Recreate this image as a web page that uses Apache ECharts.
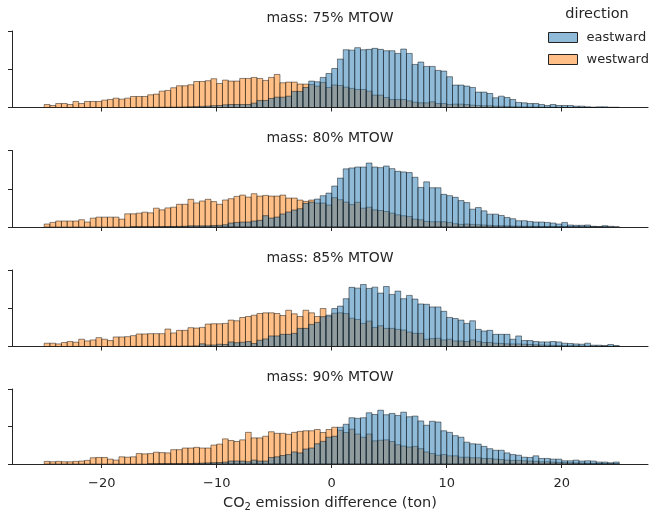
<!DOCTYPE html>
<html>
<head>
<meta charset="utf-8">
<script src="https://cdn.jsdelivr.net/npm/echarts@6/dist/echarts.min.js"></script>
<style>
  html, body { margin: 0; padding: 0; background: #fff; }
  #main { width: 665px; height: 513px; }
</style>
</head>
<body>
<div id="main"></div>
<script>
// histogram bins: 100 bins of 0.5 ton from -25 to 25
const binStart = -25
const binWidth = 0.5
const xTicks = [-20, -10, 0, 10, 20]
const panelTitles = ['mass: 75% MTOW', 'mass: 80% MTOW', 'mass: 85% MTOW', 'mass: 90% MTOW']
const directions = ['eastward', 'westward']

// bar heights, relative units (axis top = 100)
const west75 = [
  3.9, 2.6, 5.2, 5.2, 3.9, 7.9, 5.2, 7.9, 7.9, 7.9,
  9.6, 10.5, 12.2, 10.9, 12.2, 14.4, 14.4, 14.4, 16.6, 17.5,
  21.4, 22.3, 25.8, 28.4, 28.4, 29.7, 34.0, 34.0, 35.0, 37.6,
  31.4, 35.8, 34.5, 34.5, 38.0, 38.0, 39.3, 38.0, 35.4, 39.3,
  43.2, 32.3, 33.2, 33.2, 30.6, 30.6, 30.1, 28.0, 32.8, 26.2,
  29.5, 28.8, 26.6, 25.0, 23.6, 23.6, 21.4, 16.2, 16.2, 13.1,
  10.5, 10.5, 10.5, 8.7, 7.0, 6.1, 6.1, 7.4, 5.2, 5.2,
  3.9, 4.4, 4.4, 3.9, 3.1, 2.6, 2.2, 2.2, 1.7, 1.7,
  1.2, 1.0, 0.9, 0.8, 0.7, 0.6, 0.5, 0.4, 0.4, 0.3,
  0.3, 0.2, 0.2, 0.1, 0.1, 0.1, 0, 0, 0, 0
]
const east75 = [
  0, 0, 0, 0, 0, 0, 0, 0, 0, 0,
  0, 0, 0, 0, 0, 0, 0.2, 0.2, 0.3, 0.3,
  0.4, 0.4, 0.5, 0.6, 0.8, 1.0, 1.2, 1.5, 1.8, 2.4,
  2.6, 3.5, 3.9, 3.9, 3.9, 3.9, 5.7, 9.2, 9.2, 11.8,
  13.5, 13.5, 14.8, 21.0, 21.0, 26.2, 34.5, 33.6, 39.3, 44.5,
  51.0, 63.3, 75.5, 75.0, 78.2, 75.5, 76.0, 77.3, 76.0, 74.2,
  74.2, 70.7, 76.4, 70.7, 56.3, 59.4, 53.7, 53.7, 48.5, 47.6,
  40.2, 29.3, 29.3, 28.0, 26.2, 20.1, 20.1, 18.3, 12.7, 14.8,
  13.1, 10.5, 6.6, 6.1, 5.2, 5.2, 3.9, 2.6, 3.9, 2.6,
  2.6, 2.6, 1.7, 1.7, 0.9, 0.4, 0.9, 0.9, 0.4, 0.4
]
const west80 = [
  3.9, 6.0, 7.8, 7.8, 7.8, 7.8, 9.5, 6.5, 11.6, 12.9,
  12.9, 12.9, 12.9, 10.3, 17.2, 17.2, 18.1, 19.4, 18.5, 24.6,
  22.4, 25.0, 25.9, 29.7, 29.7, 36.2, 31.5, 34.0, 36.2, 33.2,
  29.7, 35.3, 37.0, 40.0, 41.7, 39.1, 43.5, 40.4, 41.3, 40.4,
  40.4, 41.7, 37.8, 37.8, 35.2, 33.5, 35.2, 31.3, 31.3, 28.7,
  38.3, 35.7, 32.6, 29.3, 32.3, 24.6, 25.9, 22.4, 21.6, 20.3,
  18.1, 15.9, 14.7, 13.8, 10.3, 9.5, 7.3, 6.9, 6.9, 6.9,
  6.0, 4.3, 3.4, 3.9, 3.4, 3.0, 2.6, 2.2, 1.7, 1.7,
  1.5, 1.3, 1.2, 1.0, 0.9, 0.8, 0.7, 0.6, 0.5, 0.5,
  0.4, 0.3, 0.3, 0.2, 0.2, 0.1, 0.1, 0.1, 0, 0
]
const east80 = [
  0, 0, 0, 0, 0, 0, 0, 0, 0, 0,
  0, 0, 0, 0, 0, 0.2, 0.2, 0.2, 0.2, 0.3,
  0.4, 0.5, 0.6, 0.8, 1.0, 1.5, 1.5, 1.5, 1.5, 2.0,
  2.2, 3.0, 5.2, 6.0, 6.5, 6.5, 7.8, 8.7, 14.8, 11.7,
  13.0, 17.0, 19.6, 22.2, 23.9, 30.9, 32.6, 36.5, 40.9, 44.3,
  53.5, 63.9, 76.0, 77.2, 78.4, 78.4, 83.6, 78.4, 77.6, 79.7,
  76.3, 72.8, 72.0, 71.1, 65.0, 51.7, 59.0, 51.3, 51.3, 42.7,
  41.0, 38.8, 34.5, 31.9, 23.3, 25.4, 21.1, 16.8, 16.8, 15.1,
  12.5, 10.8, 8.2, 8.2, 7.3, 6.5, 6.5, 6.0, 5.2, 3.9,
  6.0, 2.6, 2.2, 2.2, 2.6, 0.9, 0.4, 1.7, 0.9, 0.4
]
const west85 = [
  4.3, 4.3, 3.4, 5.2, 6.5, 5.6, 9.5, 7.3, 8.6, 11.6,
  9.5, 7.8, 12.5, 12.5, 12.9, 14.2, 16.4, 16.4, 16.8, 16.8,
  16.8, 22.8, 17.7, 21.1, 21.1, 24.6, 24.1, 25.0, 29.3, 29.7,
  29.7, 30.2, 34.5, 33.6, 37.9, 39.2, 40.9, 43.1, 44.0, 44.0,
  43.1, 40.5, 47.4, 42.7, 39.2, 47.4, 44.0, 39.2, 49.6, 39.6,
  43.5, 44.0, 43.0, 37.0, 35.3, 30.2, 33.2, 25.0, 27.2, 23.7,
  23.7, 22.4, 21.6, 19.0, 17.2, 17.2, 9.5, 10.3, 10.8, 8.6,
  9.5, 7.3, 7.3, 6.5, 8.6, 6.5, 5.2, 5.2, 4.3, 4.0,
  3.5, 3.4, 3.4, 3.0, 2.6, 2.2, 2.0, 1.7, 1.5, 1.3,
  1.2, 1.0, 0.9, 0.8, 0.6, 0.5, 0.4, 0.3, 0.2, 0.2
]
const east85 = [
  0, 0, 0, 0, 0, 0, 0, 0, 0, 0,
  0, 0, 0, 0, 0, 0.2, 0.2, 0.2, 0.2, 0.2,
  0.3, 0.3, 0.4, 0.4, 0.5, 0.5, 0.8, 3.5, 2.0, 2.0,
  3.0, 2.6, 6.0, 5.0, 5.6, 6.5, 3.9, 8.2, 9.9, 13.8,
  13.8, 15.9, 15.9, 17.2, 23.7, 23.7, 28.9, 31.5, 39.0, 41.0,
  49.6, 52.8, 62.5, 77.3, 76.3, 81.0, 75.9, 77.6, 69.8, 78.4,
  68.1, 72.4, 62.5, 66.8, 62.0, 55.6, 55.2, 51.7, 51.7, 46.0,
  38.0, 36.6, 34.5, 30.2, 33.6, 22.4, 20.3, 21.1, 15.9, 15.9,
  15.9, 9.5, 13.8, 7.8, 7.8, 6.5, 6.0, 6.0, 6.5, 6.0,
  4.3, 3.9, 3.4, 3.0, 4.3, 1.7, 1.7, 1.3, 2.6, 1.3
]
const west90 = [
  3.5, 3.0, 3.5, 3.0, 3.0, 3.5, 3.9, 4.8, 8.3, 8.7,
  8.7, 6.5, 5.2, 9.6, 9.1, 9.6, 13.9, 13.5, 13.9, 15.7,
  15.2, 14.8, 19.1, 19.1, 21.3, 21.3, 22.2, 21.3, 21.3, 25.2,
  26.5, 33.5, 31.3, 30.0, 32.2, 42.2, 34.8, 34.8, 37.0, 43.0,
  40.9, 40.9, 39.6, 42.2, 43.5, 44.3, 44.3, 46.0, 42.0, 46.0,
  49.0, 45.0, 42.0, 46.5, 40.0, 35.7, 40.0, 30.9, 31.7, 32.2,
  30.0, 25.7, 23.9, 22.6, 23.5, 20.4, 16.1, 13.9, 11.7, 12.6,
  10.9, 10.9, 9.1, 9.1, 8.3, 8.3, 7.4, 7.4, 6.5, 6.0,
  5.2, 4.8, 4.8, 4.3, 4.0, 3.5, 3.0, 3.0, 2.6, 2.2,
  2.0, 1.7, 1.5, 1.3, 1.0, 0.9, 0.6, 0.4, 0.3, 0.2
]
const east90 = [
  0, 0, 0, 0, 0, 0, 0, 0, 0, 0,
  0, 0, 0, 0, 0, 0, 0, 0, 0.2, 0.2,
  0.3, 0.3, 0.4, 0.4, 0.5, 0.6, 1.0, 1.2, 1.5, 1.8,
  2.0, 2.5, 4.0, 4.0, 3.9, 3.0, 5.2, 3.9, 3.9, 8.7,
  9.6, 11.3, 12.6, 16.1, 14.8, 20.0, 21.3, 27.0, 30.2, 35.7,
  37.0, 49.0, 53.0, 61.7, 60.9, 61.7, 68.3, 66.0, 71.7, 65.7,
  67.4, 64.8, 69.1, 63.0, 63.9, 57.4, 51.7, 57.0, 56.0, 44.3,
  42.2, 37.8, 35.7, 29.1, 27.0, 26.5, 23.5, 20.4, 18.3, 18.3,
  14.8, 12.6, 11.7, 9.1, 8.7, 10.9, 7.4, 7.4, 6.5, 6.5,
  4.3, 4.3, 5.2, 3.9, 4.3, 3.9, 2.6, 2.6, 1.7, 2.6
]

const eastPanels = [east75, east80, east85, east90]
const westPanels = [west75, west80, west85, west90]

const fontFamily = 'DejaVu Sans'
const textColor = '#262626'
const axisColor = '#262626'
const eastFill = 'rgba(31,119,180,0.5)'
const westFill = 'rgba(255,127,14,0.5)'
const edgeColor = 'rgba(0,0,0,0.45)'

const panelTops = [31, 150.5, 270, 389]
const panelHeight = 76.5
const plotLeft = 12
const plotWidth = 636

function toBins(values) {
  const out = []
  values.forEach((v, i) => {
    if (v > 0) out.push([binStart + i * binWidth, binStart + (i + 1) * binWidth, v])
  })
  return out
}

function barRenderer(fill) {
  return function (params, api) {
    const top = api.coord([api.value(0), api.value(2)])
    const bottom = api.coord([api.value(1), 0])
    return {
      type: 'rect',
      shape: { x: top[0], y: top[1], width: bottom[0] - top[0], height: bottom[1] - top[1] },
      style: { fill: fill, stroke: edgeColor, lineWidth: 1 }
    }
  }
}

const series = []
panelTitles.forEach((t, k) => {
  // westward drawn first so eastward sits on top (grey overlap)
  series.push({
    name: 'westward', type: 'custom', xAxisIndex: k, yAxisIndex: k,
    renderItem: barRenderer(westFill), encode: { x: [0, 1], y: 2 },
    itemStyle: { color: westFill, borderColor: edgeColor },
    data: toBins(westPanels[k]), clip: true
  })
  series.push({
    name: 'eastward', type: 'custom', xAxisIndex: k, yAxisIndex: k,
    renderItem: barRenderer(eastFill), encode: { x: [0, 1], y: 2 },
    itemStyle: { color: eastFill, borderColor: edgeColor },
    data: toBins(eastPanels[k]), clip: true
  })
})

const titleY = [18.5, 138.5, 258, 377.5]

const option = {
  animation: false,
  backgroundColor: '#fff',
  textStyle: { fontFamily: fontFamily },
  grid: panelTops.map(t => ({ left: plotLeft, width: plotWidth, top: t, height: panelHeight })),
  xAxis: panelTops.map((t, k) => ({
    type: 'value', gridIndex: k, min: -27.8, max: 27.5,
    splitLine: { show: false },
    axisLine: { show: true, onZero: false, lineStyle: { color: axisColor, width: 1 } },
    axisTick: { show: true, length: 4, customValues: xTicks, lineStyle: { color: axisColor, width: 1 } },
    axisLabel: {
      show: k === 3, customValues: xTicks, fontSize: 13, color: textColor, margin: 13, fontFamily: fontFamily,
      formatter: v => (v < 0 ? '\u2212' + (-v) : String(v))
    },
    name: k === 3 ? 'CO{sub|2} emission difference (ton)' : '',
    nameLocation: 'middle',
    nameGap: 30,
    nameTextStyle: {
      fontSize: 14.5, color: textColor, fontFamily: fontFamily,
      rich: { sub: { fontSize: 10, color: textColor, fontFamily: fontFamily, padding: [8, 0, 0, 0] } }
    }
  })),
  yAxis: panelTops.map((t, k) => ({
    type: 'value', gridIndex: k, min: 0, max: 100, interval: 50,
    splitLine: { show: false },
    axisLine: { show: true, onZero: false, lineStyle: { color: axisColor, width: 1 } },
    axisTick: { show: true, length: 4, lineStyle: { color: axisColor, width: 1 } },
    axisLabel: { show: false }
  })),
  legend: {
    orient: 'vertical', left: 543, top: 26,
    itemWidth: 29, itemHeight: 10, itemGap: 9,
    textStyle: { fontSize: 13, color: textColor, fontFamily: fontFamily, padding: [0, 0, 0, 4] },
    data: [
      { name: 'eastward', icon: 'rect', itemStyle: { color: eastFill, borderColor: '#222', borderWidth: 1 } },
      { name: 'westward', icon: 'rect', itemStyle: { color: westFill, borderColor: '#222', borderWidth: 1 } }
    ],
    selectedMode: false
  },
  graphic: panelTitles.map((t, k) => ({
    type: 'text', x: plotLeft + plotWidth / 2, y: titleY[k],
    style: { text: t, fontSize: 14, fontFamily: fontFamily, fill: textColor, align: 'center', verticalAlign: 'middle' }
  })).concat([{
    type: 'text', x: 597, y: 14,
    style: { text: 'direction', fontSize: 14.5, fontFamily: fontFamily, fill: textColor, align: 'center', verticalAlign: 'middle' }
  }]),
  series: series
}

const chart = echarts.init(document.getElementById('main'))
chart.setOption(option)
</script>
</body>
</html>
